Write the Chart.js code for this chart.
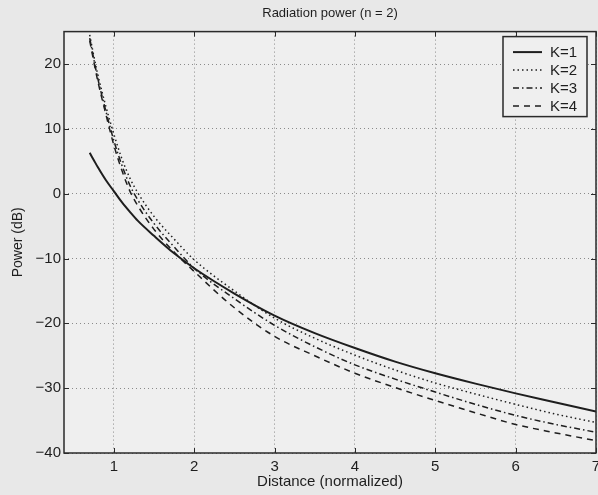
<!DOCTYPE html>
<html lang="en">

<head>
    <meta charset="UTF-8">
    <title>Radiation power</title>
    <style>
        html, body {
            margin: 0;
            padding: 0;
            background-color: #e8e8e8;
        }

        .chart-container {
            width: 598px;
            height: 495px;
        }
    </style>
</head>

<body>
    <div class="chart-container">
        <canvas id="power-chart" width="598" height="495"></canvas>
    </div>
    <script src="https://cdn.jsdelivr.net/npm/chart.js"></script>
    <script>
    // normalized distance and received power (dB) for each K
    const distance = [0.7, 0.75, 0.8, 0.9, 1.0, 1.1, 1.2, 1.3, 1.5, 1.75, 2.0, 2.5, 3.0, 3.5, 4.0, 4.5, 5.0, 5.5, 6.0, 6.5, 7.0];
    const powerK1 = [6.3, 5.2, 4.1, 2.1, 0.4, -1.3, -2.8, -4.2, -6.5, -9.2, -11.5, -15.4, -18.8, -21.5, -23.8, -25.9, -27.7, -29.3, -30.8, -32.2, -33.6];
    const powerK2 = [24.5, 21.3, 18.4, 13.5, 9.2, 5.4, 2.4, 0.1, -3.5, -7.0, -10.2, -15.0, -19.2, -22.3, -24.9, -27.2, -29.2, -30.9, -32.5, -34.0, -35.3];
    const powerK3 = [24.0, 20.8, 17.8, 12.8, 8.2, 4.4, 1.3, -1.0, -4.6, -8.2, -11.5, -16.2, -20.3, -23.6, -26.4, -28.6, -30.6, -32.5, -34.2, -35.6, -36.8];
    const powerK4 = [23.6, 20.4, 17.4, 12.3, 7.5, 3.6, 0.4, -1.9, -5.5, -9.0, -12.0, -17.6, -22.0, -25.0, -27.7, -29.9, -31.9, -33.8, -35.6, -36.9, -38.1];

    const seriesLabels = ['K=1', 'K=2', 'K=3', 'K=4'];
    const xTicks = [1, 2, 3, 4, 5, 6, 7];
    const yTicks = [-40, -30, -20, -10, 0, 10, 20];

    const ink = '#1e1e1e';
    const fontFamily = '"Liberation Sans", Arial, Helvetica, sans-serif';
    Chart.defaults.font.family = fontFamily;
    Chart.defaults.color = ink;

    function toPoints(values) {
        return values.map((v, i) => ({ x: distance[i], y: v }));
    }

    function makeDataset(label, values, dash, width) {
        return {
            label: label,
            data: toPoints(values),
            borderColor: ink,
            borderWidth: width,
            borderDash: dash,
            pointRadius: 0,
            fill: false,
            cubicInterpolationMode: 'monotone',
        };
    }

    // background, box around the axes, inward ticks and the framed legend
    const axesFrame = {
        id: 'axesFrame',
        beforeDraw(chart) {
            const { ctx, chartArea: a } = chart;
            ctx.save();
            ctx.fillStyle = '#e8e8e8';
            ctx.fillRect(0, 0, chart.width, chart.height);
            ctx.fillStyle = '#efefef';
            ctx.fillRect(a.left, a.top, a.right - a.left, a.bottom - a.top);
            ctx.restore();
        },
        afterDatasetsDraw(chart) {
            const { ctx, chartArea: a, scales } = chart;
            ctx.save();
            ctx.strokeStyle = '#2a2a2a';
            ctx.lineWidth = 1.5;
            ctx.setLineDash([]);
            ctx.strokeRect(a.left, a.top, a.right - a.left, a.bottom - a.top);
            ctx.lineWidth = 1;
            ctx.beginPath();
            xTicks.forEach(v => {
                const px = Math.round(scales.x.getPixelForValue(v)) + 0.5;
                ctx.moveTo(px, a.bottom); ctx.lineTo(px, a.bottom - 5);
                ctx.moveTo(px, a.top); ctx.lineTo(px, a.top + 5);
            });
            yTicks.forEach(v => {
                const py = Math.round(scales.y.getPixelForValue(v)) + 0.5;
                ctx.moveTo(a.left, py); ctx.lineTo(a.left + 5, py);
                ctx.moveTo(a.right, py); ctx.lineTo(a.right - 5, py);
            });
            ctx.stroke();
            ctx.restore();
        },
        afterDraw(chart) {
            const { ctx, chartArea: a } = chart;
            const datasets = chart.data.datasets;
            const boxW = 84, rowH = 18;
            const boxH = datasets.length * rowH + 8;
            const left = a.right - 9 - boxW;
            const top = a.top + 5;
            ctx.save();
            ctx.fillStyle = '#efefef';
            ctx.fillRect(left, top, boxW, boxH);
            ctx.strokeStyle = '#2a2a2a';
            ctx.lineWidth = 1.5;
            ctx.setLineDash([]);
            ctx.strokeRect(left, top, boxW, boxH);
            ctx.font = '15px ' + fontFamily;
            ctx.textBaseline = 'middle';
            ctx.fillStyle = ink;
            datasets.forEach((ds, i) => {
                const cy = top + 15.5 + i * rowH;
                ctx.beginPath();
                ctx.strokeStyle = ds.borderColor;
                ctx.lineWidth = ds.borderWidth;
                ctx.setLineDash(ds.borderDash);
                ctx.moveTo(left + 10, cy);
                ctx.lineTo(left + 39, cy);
                ctx.stroke();
                ctx.setLineDash([]);
                ctx.fillText(ds.label, left + 47, cy + 1);
            });
            ctx.restore();
        }
    };

    const ctx = document.getElementById('power-chart').getContext('2d');
    new Chart(ctx, {
        type: 'line',
        data: {
            datasets: [
                makeDataset(seriesLabels[0], powerK1, [], 2),
                makeDataset(seriesLabels[1], powerK2, [1.5, 3], 1.5),
                makeDataset(seriesLabels[2], powerK3, [6, 3, 1.5, 3], 1.5),
                makeDataset(seriesLabels[3], powerK4, [6, 5], 1.5),
            ],
        },
        options: {
            responsive: false,
            animation: false,
            devicePixelRatio: 1,
            layout: { padding: { top: 0, right: 2, bottom: 0, left: 0 } },
            plugins: {
                legend: { display: false },
                tooltip: { enabled: false },
                title: {
                    display: true,
                    fullSize: false,
                    text: 'Radiation power (n = 2)',
                    color: ink,
                    font: { size: 13, weight: 'normal' },
                    padding: { top: 6, bottom: 10 },
                },
            },
            scales: {
                x: {
                    type: 'linear',
                    min: 0.38,
                    max: 7,
                    afterBuildTicks: s => { s.ticks = xTicks.map(v => ({ value: v })); },
                    afterFit: s => { s.height = 42; s.paddingLeft = 0; s.paddingRight = 0; },
                    ticks: { font: { size: 15 }, padding: 5, maxRotation: 0, autoSkip: false },
                    grid: { color: '#8a8a8a', lineWidth: 1, drawTicks: false },
                    border: { display: false, dash: [1, 3] },
                    title: {
                        display: true,
                        text: 'Distance (normalized)',
                        font: { size: 15 },
                        padding: { top: 0, bottom: 4 },
                    },
                },
                y: {
                    type: 'linear',
                    min: -40,
                    max: 25,
                    afterBuildTicks: s => { s.ticks = yTicks.map(v => ({ value: v })); },
                    afterFit: s => { s.width = 64; s.paddingTop = 0; s.paddingBottom = 0; },
                    ticks: {
                        font: { size: 15 },
                        padding: 3,
                        callback: v => String(v).replace('-', '\u2212'),
                    },
                    grid: { color: '#8a8a8a', lineWidth: 1, drawTicks: false },
                    border: { display: false, dash: [1, 3] },
                    title: {
                        display: true,
                        text: 'Power (dB)',
                        font: { size: 14 },
                        padding: { top: 10, bottom: 0 },
                    },
                },
            },
        },
        plugins: [axesFrame],
    });
    </script>
</body>

</html>
